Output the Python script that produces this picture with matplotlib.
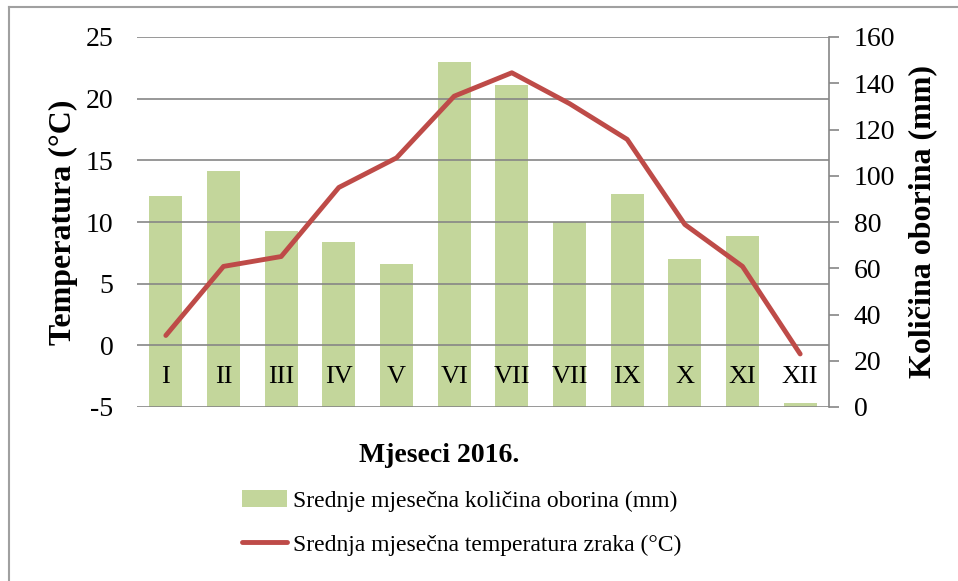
import matplotlib
matplotlib.use("Agg")
import matplotlib.pyplot as plt
from matplotlib.lines import Line2D
from matplotlib.patches import Patch
import numpy as np

months = ["I", "II", "III", "IV", "V", "VI", "VII", "VII", "IX", "X", "XI", "XII"]
precip = [91.2, 101.9, 76.0, 71.2, 61.7, 149.2, 139.2, 80.1, 92.2, 63.9, 74.1, 1.6]
temp = [0.8, 6.4, 7.2, 12.8, 15.2, 20.2, 22.1, 19.6, 16.7, 9.8, 6.4, -0.7]

bar_color = "#C3D69B"
line_color = "#BE4B48"
grid_color = "#868686"

plt.rcParams["font.family"] = ["Liberation Serif", "DejaVu Serif"]
plt.rcParams["axes.unicode_minus"] = False

W, H = 958, 581
fig = plt.figure(figsize=(W / 100, H / 100), dpi=100)

left, right, top, bottom = 137, 829, 37, 407
ax = fig.add_axes([left / W, 1 - bottom / H, (right - left) / W, (bottom - top) / H])
ax2 = ax.twinx()

x = np.arange(len(months))

# bars on the right (precipitation) axis
ax2.bar(x, precip, width=0.57, color=bar_color, zorder=2)
ax2.set_ylim(0, 160)
ax2.set_yticks(range(0, 161, 20))

# temperature on the left axis
ax.set_ylim(-5, 25)
ax.set_yticks(range(-5, 26, 5))
ax.set_xlim(-0.5, len(months) - 0.5)
ax.set_xticks([])
for t in range(-5, 26, 5):
    ax.axhline(t, color=grid_color, lw=1.2, zorder=0)

# line must sit above the bars
ax.set_zorder(ax2.get_zorder() + 1)
ax.patch.set_visible(False)
ax.plot(x, temp, color=line_color, lw=3.5, solid_capstyle="round", zorder=3)

for i, m in enumerate(months):
    ax.text(i, -2.6, m, ha="center", va="center", fontsize=19, zorder=4)

for a in (ax, ax2):
    for s in a.spines.values():
        s.set_visible(False)

ax.tick_params(axis="y", length=0, labelsize=20, pad=17)
ax2.spines["right"].set_visible(True)
ax2.spines["right"].set_color(grid_color)
ax2.spines["right"].set_linewidth(1.2)
ax2.tick_params(axis="y", length=7, width=1.2, color=grid_color, labelsize=20, pad=11)

ax.set_ylabel("Temperatura (°C)", fontsize=23, fontweight="bold")
ax.yaxis.set_label_coords(-0.085, 0.5)
ax2.set_ylabel("Količina oborina (mm)", fontsize=23, fontweight="bold")
ax2.yaxis.set_label_coords(1.114, 0.5)

fig.text(439 / W, 1 - 456 / H, "Mjeseci 2016.", ha="center", va="center",
         fontsize=20, fontweight="bold")

handles = [Patch(facecolor=bar_color, edgecolor="none"),
           Line2D([0], [0], color=line_color, lw=3.5, solid_capstyle="round")]
labels = ["Srednje mjesečna količina oborina (mm)",
          "Srednja mjesečna temperatura zraka (°C)"]
fig.legend(handles, labels, loc="center left", bbox_to_anchor=(221 / W, 1 - 523 / H),
           frameon=False, fontsize=17, handlelength=1.9, handletextpad=0.25,
           labelspacing=0.95)

# outer frame (left and top edges visible)
fig.add_artist(Line2D([9 / W, 9 / W], [0, 1 - 7 / H], color="#A0A0A0", lw=1.5,
                      transform=fig.transFigure))
fig.add_artist(Line2D([9 / W, 1], [1 - 7 / H, 1 - 7 / H], color="#A0A0A0", lw=1.5,
                      transform=fig.transFigure))

fig.savefig("out.png", dpi=100)
